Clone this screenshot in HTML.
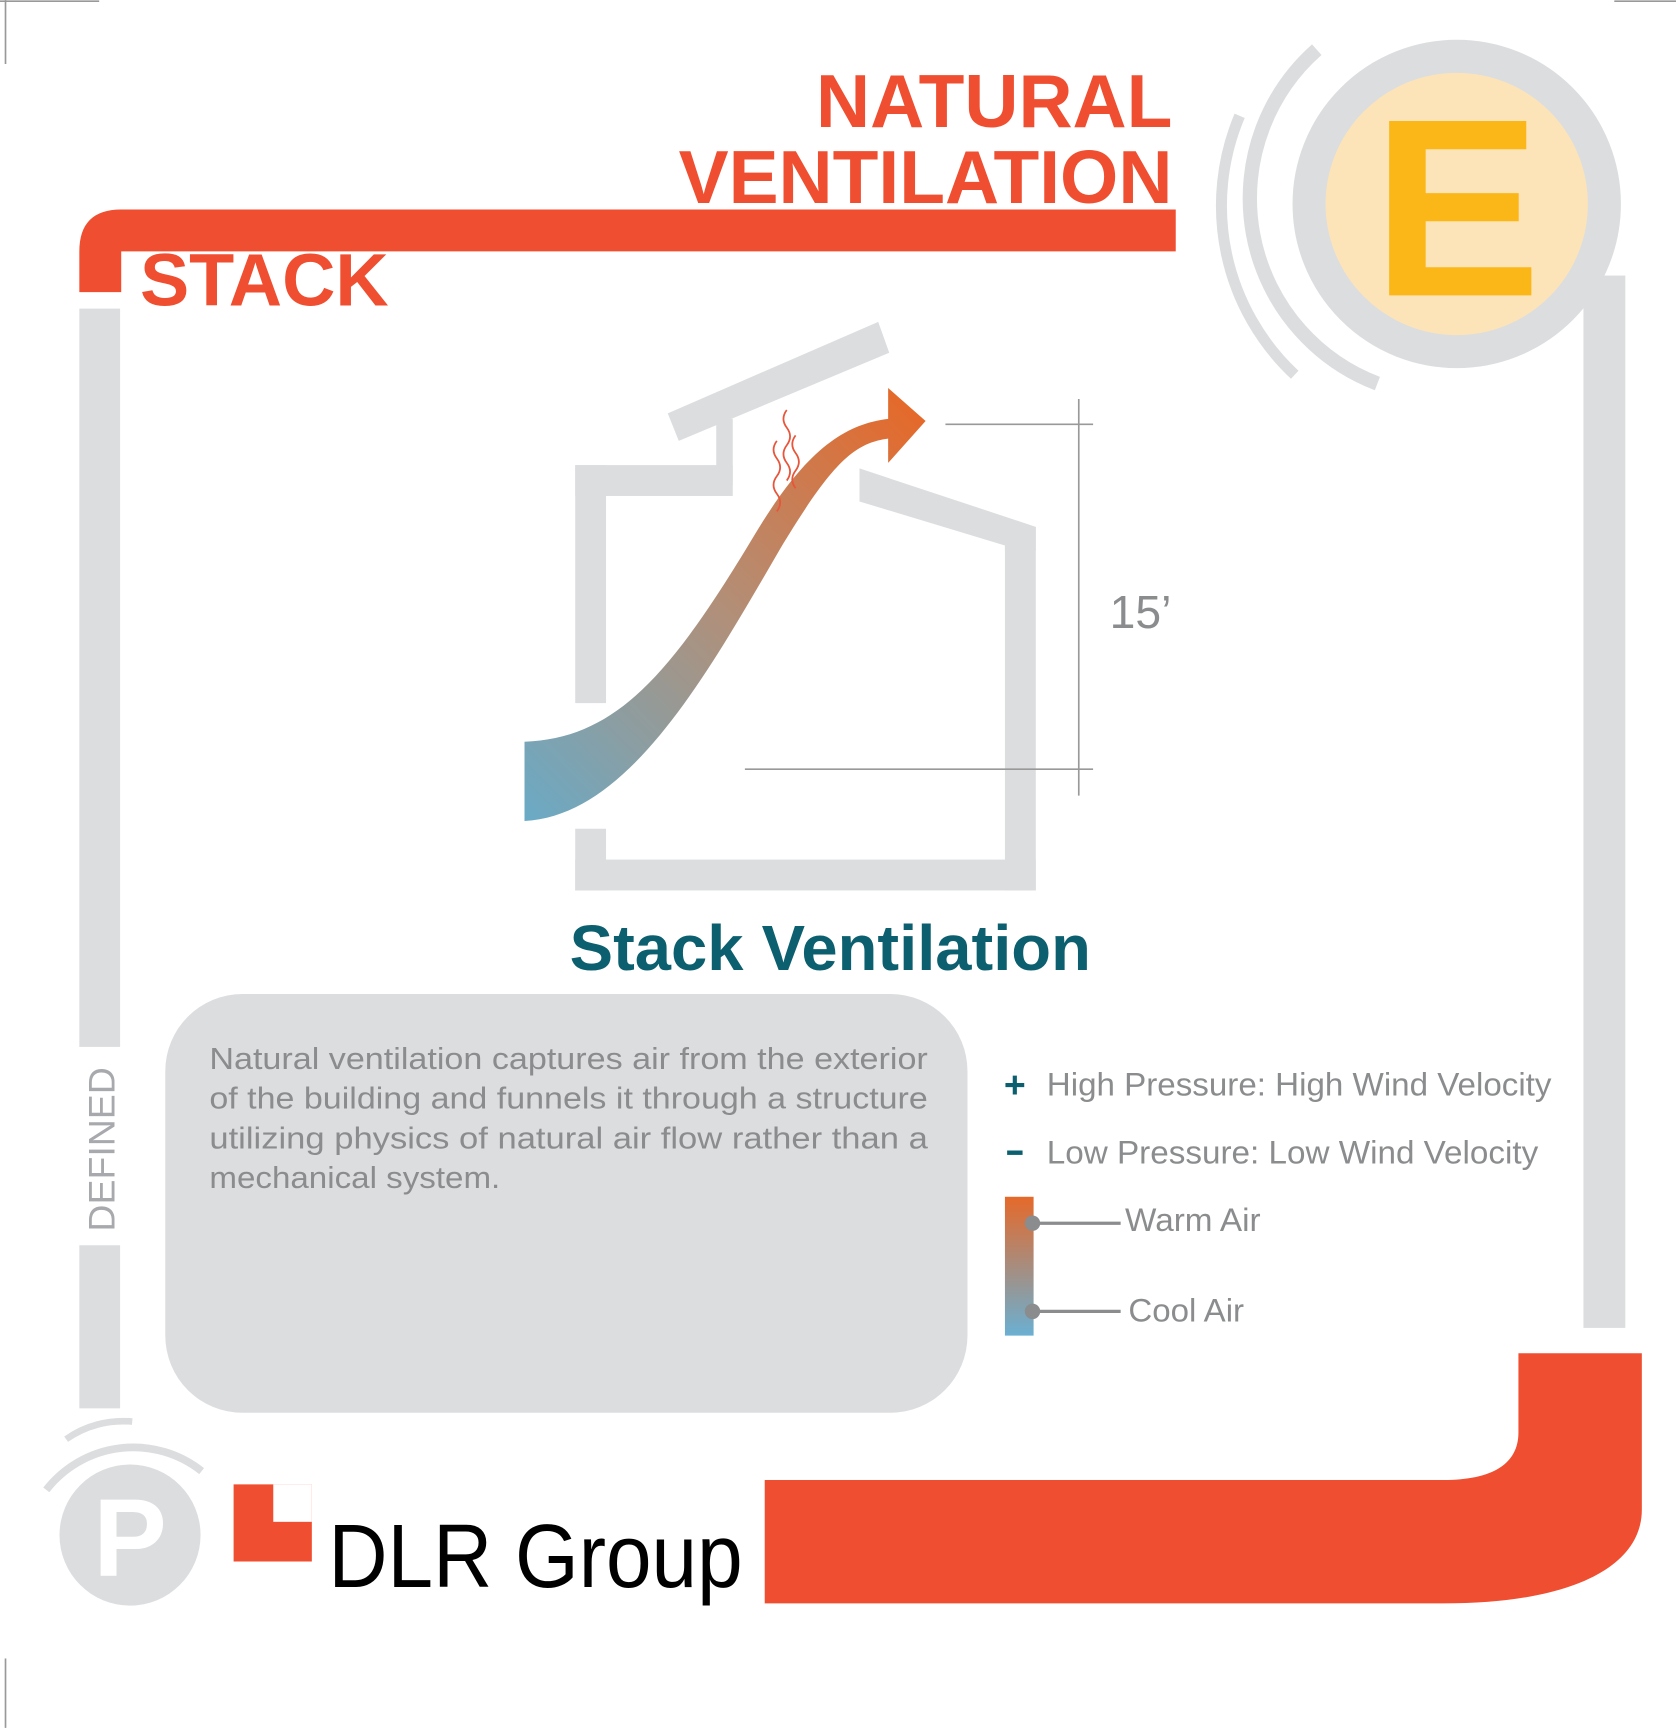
<!DOCTYPE html>
<html><head><meta charset="utf-8"><style>
html,body{margin:0;padding:0;background:#fff}
svg{display:block}
text{font-family:"Liberation Sans",Arial,sans-serif}
</style></head><body>
<svg width="1676" height="1728" viewBox="0 0 1521 1568" xmlns="http://www.w3.org/2000/svg">
<defs>
<linearGradient id="ag" x1="476" y1="745" x2="840" y2="380" gradientUnits="userSpaceOnUse">
<stop offset="0" stop-color="#6aaac6"/><stop offset="0.5" stop-color="#b0907a"/><stop offset="1" stop-color="#e5692a"/>
</linearGradient>
<linearGradient id="lg" x1="0" y1="0" x2="0" y2="1">
<stop offset="0" stop-color="#e5692a"/><stop offset="1" stop-color="#6ab0d2"/>
</linearGradient>
</defs>
<line x1="5" y1="0" x2="5" y2="58" stroke="#999" stroke-width="1.5"/>
<line x1="0" y1="1" x2="90" y2="1" stroke="#999" stroke-width="1.5"/>
<line x1="1465" y1="1" x2="1521" y2="1" stroke="#999" stroke-width="1.5"/>
<line x1="5" y1="1505" x2="5" y2="1568" stroke="#999" stroke-width="1.5"/>
<path d="M110,190 H1067 V228 H110 V265 H72 V228 Q72,190 110,190 Z" fill="#f04e30"/>
<text x="127" y="277" font-size="67" font-weight="bold" fill="#f04e30">STACK</text>
<text x="1064" y="115" font-size="68" font-weight="bold" fill="#f04e30" text-anchor="end">NATURAL</text>
<text x="1064" y="184" font-size="68" font-weight="bold" fill="#f04e30" text-anchor="end">VENTILATION</text>
<rect x="72" y="280" width="37" height="670" fill="#dcdddf"/>
<rect x="72" y="1130" width="37" height="148" fill="#dcdddf"/>
<text transform="translate(104,1043) rotate(-90)" font-size="34" fill="#a7a9ac" text-anchor="middle">DEFINED</text>
<rect x="1437" y="250" width="38" height="955" fill="#dcdddf"/>
<circle cx="1322" cy="185" r="134" fill="#fde4b8" stroke="#dcdddf" stroke-width="30"/>
<text x="1322" y="268" font-size="230" font-weight="bold" fill="#fbb617" text-anchor="middle">E</text>
<path d="M1195,45 A180,180 0 0,0 1250,348" fill="none" stroke="#dcdddf" stroke-width="13"/>
<path d="M1125,105 A210,210 0 0,0 1175,340" fill="none" stroke="#dcdddf" stroke-width="10"/>
<g fill="#dcdddf">
<rect x="522" y="422" width="28" height="216"/>
<rect x="522" y="422" width="143" height="28"/>
<rect x="650" y="380" width="15" height="60"/>
<polygon points="606,375 797,292 807,320 616,400"/>
<polygon points="780,425 940,478 940,500 912,500 912,495 780,455"/>
<rect x="912" y="478" width="28" height="330"/>
<rect x="522" y="780" width="418" height="28"/>
<rect x="522" y="752" width="28" height="56"/>
</g>
<path d="M476,673 C560,670 610,610 685,485 C730,410 765,385 806,380 L806,352 L840,382 L806,420 L806,398 C775,402 755,420 708,498 C640,615 570,740 476,745 Z" fill="url(#ag)"/>
<g fill="none" stroke="#e8553a" stroke-width="1.6">
<path d="M705,400 q-6,8 0,16 q6,8 0,16 q-6,8 0,16 q6,8 0,16"/>
<path d="M714,372 q-6,8 0,16 q6,8 0,16 q-6,8 0,16 q6,8 0,16"/>
<path d="M722,395 q-6,8 0,16 q6,8 0,16 q-6,8 0,16"/>
</g>
<g stroke="#999" stroke-width="1.5">
<line x1="858" y1="385" x2="992" y2="385"/>
<line x1="676" y1="698" x2="992" y2="698"/>
<line x1="979" y1="362" x2="979" y2="722"/>
</g>
<text x="1007" y="570" font-size="42" fill="#8a8c8e">15’</text>
<text x="517" y="880" font-size="58" font-weight="bold" fill="#0b5f6e" textLength="473" lengthAdjust="spacingAndGlyphs">Stack Ventilation</text>
<rect x="150" y="902" width="728" height="380" rx="70" fill="#dcdddf"/>
<g font-size="28" fill="#8a8c8e">
<text x="190" y="970" textLength="652" lengthAdjust="spacingAndGlyphs">Natural ventilation captures air from the exterior</text>
<text x="190" y="1006" textLength="652" lengthAdjust="spacingAndGlyphs">of the building and funnels it through a structure</text>
<text x="190" y="1042" textLength="652" lengthAdjust="spacingAndGlyphs">utilizing physics of natural air flow rather than a</text>
<text x="190" y="1078" textLength="264" lengthAdjust="spacingAndGlyphs">mechanical system.</text>
</g>
<text x="911" y="996" font-size="34" font-weight="bold" fill="#0b5f6e">+</text>
<text x="950" y="994" font-size="29" fill="#8a8c8e" textLength="458" lengthAdjust="spacingAndGlyphs">High Pressure: High Wind Velocity</text>
<rect x="914" y="1044" width="14" height="4" fill="#0b5f6e"/>
<text x="950" y="1056" font-size="29" fill="#8a8c8e" textLength="446" lengthAdjust="spacingAndGlyphs">Low Pressure: Low Wind Velocity</text>
<rect x="912" y="1086" width="26" height="126" fill="url(#lg)"/>
<line x1="937" y1="1110" x2="1017" y2="1110" stroke="#8a8c8e" stroke-width="3"/>
<circle cx="937" cy="1110" r="7" fill="#8a8c8e"/>
<text x="1021" y="1117" font-size="29" fill="#8a8c8e" textLength="123" lengthAdjust="spacingAndGlyphs">Warm Air</text>
<line x1="937" y1="1190" x2="1017" y2="1190" stroke="#8a8c8e" stroke-width="3"/>
<circle cx="937" cy="1190" r="7" fill="#8a8c8e"/>
<text x="1024" y="1199" font-size="29" fill="#8a8c8e" textLength="105" lengthAdjust="spacingAndGlyphs">Cool Air</text>
<path d="M694,1343 H1310 C1355,1343 1378,1328 1378,1300 V1228 H1490 V1370 C1490,1420 1430,1455 1310,1455 H694 Z" fill="#f04e30"/>
<circle cx="118" cy="1393" r="64" fill="#dcdddf"/>
<text x="118" y="1430" font-size="100" font-weight="bold" fill="#fff" text-anchor="middle">P</text>
<path d="M42,1352 A100,100 0 0,1 183,1335" fill="none" stroke="#dcdddf" stroke-width="7"/>
<path d="M60,1306 A90,90 0 0,1 120,1290" fill="none" stroke="#dcdddf" stroke-width="6"/>
<rect x="212" y="1347" width="71" height="70" fill="#f04e30"/>
<rect x="248" y="1347" width="35" height="34" fill="#fff"/>
<text x="298" y="1440" font-size="82" fill="#000" textLength="376" lengthAdjust="spacingAndGlyphs">DLR Group</text>
</svg>
</body></html>
